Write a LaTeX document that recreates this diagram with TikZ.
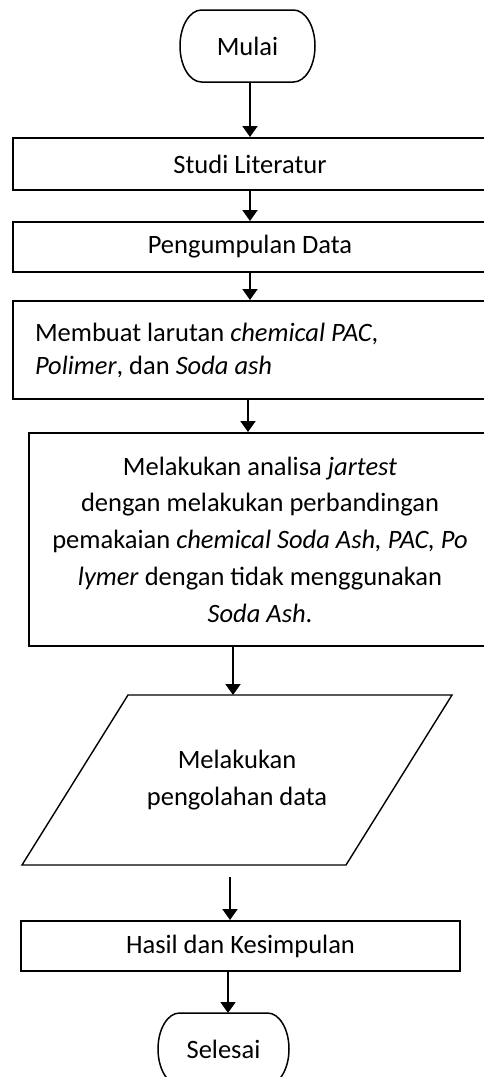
\documentclass[tikz,border=0pt]{standalone}
\usepackage{fontspec}
\setmainfont{Carlito}
\usetikzlibrary{arrows.meta}
\tikzset{
  term/.style={minimum width=135pt, minimum height=72pt, inner sep=0pt, outer sep=0pt},
  termline/.style={line width=1.5pt},
  proc/.style={draw, line width=2pt, align=center, inner sep=0pt},
  io/.style={minimum width=324pt, minimum height=170pt, inner sep=0pt, outer sep=0pt,
             align=center},
  ioline/.style={line width=1.4pt, line join=miter},
  arr/.style={-{Triangle[length=11pt,width=15pt]}, line width=2pt},
}
% rounded ends of a start/stop node
\newcommand\termframe[1]{%
  \draw[termline] ([xshift=21.5pt]#1.north west) -- ([xshift=-21.5pt]#1.north east)
    arc[start angle=90, end angle=-90, x radius=21.5pt, y radius=36pt]
    -- ([xshift=21.5pt]#1.south west)
    arc[start angle=270, end angle=90, x radius=21.5pt, y radius=36pt] -- cycle;}
% slanted data box
\newcommand\ioframe[1]{%
  \draw[ioline] ([xshift=53pt]#1.north west) -- ([xshift=53pt]#1.north east)
    -- ([xshift=-53pt]#1.south east) -- ([xshift=-53pt]#1.south west) -- cycle;}

\begin{document}
\begin{tikzpicture}[x=1pt, y=-1pt, font=\fontsize{26.5}{36.7}\selectfont]
  \useasboundingbox (0,0) rectangle (484,1077);
  \clip (0,0) rectangle (484,1077);

  \node[term] (mulai) at (247.5,46) {Mulai};
  \termframe{mulai}
  \node[proc, minimum width=474pt, minimum height=52pt] (studi) at (250,164) {Studi Literatur};
  \node[proc, minimum width=474pt, minimum height=50pt] (kumpul) at (250,247) {Pengumpulan Data};
  \node[proc, text width=430pt, align=flush left, inner xsep=22pt, minimum height=98pt,
        font=\fontsize{26.5}{33}\selectfont] (larutan) at (250,350)
    {Membuat larutan \textit{chemical PAC},\\
     \textit{Polimer}, dan \textit{Soda ash}};
  \node[proc, minimum width=462pt, minimum height=213pt] (jartest) at (260,539.5)
    {Melakukan analisa \textit{jartest}\\
     dengan melakukan perbandingan\\
     pemakaian \textit{chemical Soda Ash, PAC, Po}\\
     \textit{lymer} dengan tidak menggunakan\\
     \textit{Soda Ash}.};
  \node[io] (olah) at (237,780) {Melakukan\\ pengolahan data};
  \ioframe{olah}
  \node[proc, minimum width=439pt, minimum height=50pt] (hasil) at (240.5,946) {Hasil dan Kesimpulan};
  \node[term, minimum width=131pt] (selesai) at (223.5,1049) {Selesai};
  \termframe{selesai}

  % arrows
  \draw[arr] ([xshift=2.5pt]mulai.south) -- ([xshift=2.5pt]mulai.south |- studi.north);
  \draw[arr] (studi) -- (kumpul);
  \draw[arr] (kumpul) -- (larutan);
  \draw[arr] ([xshift=-2pt]larutan.south) -- ([xshift=-2pt]larutan.south |- jartest.north);
  \draw[arr] ([xshift=-4pt]olah.north |- jartest.south) -- ([xshift=-4pt]olah.north);
  \draw[arr] ([xshift=-7pt,yshift=-12pt]olah.south) -- ([xshift=-7pt]olah.south |- hasil.north);
  \draw[arr] ([xshift=4.5pt]selesai.north |- hasil.south) -- ([xshift=4.5pt]selesai.north);
\end{tikzpicture}
\end{document}
